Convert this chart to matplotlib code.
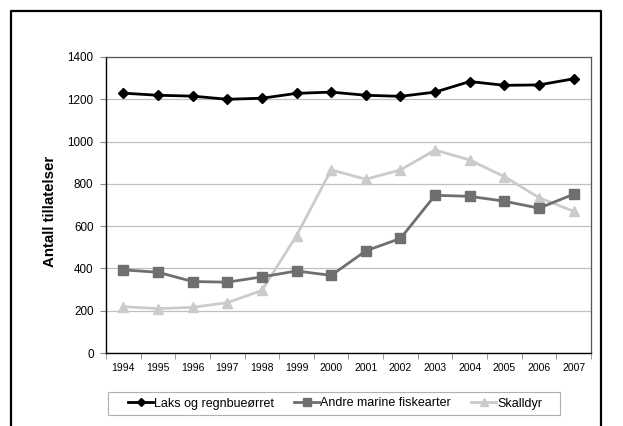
import matplotlib
matplotlib.use("Agg")
import matplotlib.pyplot as plt
from matplotlib.lines import Line2D
from matplotlib.patches import Rectangle

plt.rcParams['font.family'] = ['Liberation Sans', 'DejaVu Sans']

years = ['1994', '1995', '1996', '1997', '1998', '1999', '2000',
         '2001', '2002', '2003', '2004', '2005', '2006', '2007']
laks = [1229, 1219, 1215, 1200, 1205, 1228, 1234, 1219, 1214, 1234, 1284, 1266, 1268, 1297]
andre = [393, 382, 338, 335, 360, 388, 367, 483, 542, 746, 741, 718, 685, 751]
skalldyr = [219, 210, 216, 238, 296, 555, 866, 822, 866, 960, 913, 834, 735, 670]
series_names = ['Laks og regnbueørret', 'Andre marine fiskearter', 'Skalldyr']
yticks = [0, 200, 400, 600, 800, 1000, 1200, 1400]

W, H = 623, 426
fig = plt.figure(figsize=(W/100, H/100), dpi=100)
ax = fig.add_axes([106/W, 1-353/H, 485/W, 296/H])

x = list(range(len(years)))
ax.plot(x, laks, color='black', lw=2, marker='D', ms=5.5, mfc='black', mec='black', zorder=5,
        label=series_names[0])
ax.plot(x, andre, color='#6f6f6f', lw=2, marker='s', ms=7, mfc='#6f6f6f', mec='#6f6f6f', zorder=4,
        label=series_names[1])
ax.plot(x, skalldyr, color='#cbcbcb', lw=2, marker='^', ms=7, mfc='#cbcbcb', mec='#cbcbcb', zorder=3,
        label=series_names[2])

ax.set_xlim(-0.5, len(years) - 0.5)
ax.set_ylim(0, 1400)
ax.set_yticks(yticks)
ax.set_yticklabels([str(v) for v in yticks], fontsize=8.4)
ax.set_xticks(x)
ax.set_xticklabels(years, fontsize=7.5)
ax.set_xticks([i - 0.5 for i in range(len(years) + 1)], minor=True)
ax.tick_params(axis='x', which='major', length=0, pad=7)
ax.tick_params(axis='x', which='minor', length=4, direction='out', color='#888888')
ax.tick_params(axis='y', length=4, direction='out', color='#888888', pad=5)
ax.yaxis.grid(True, color='#c0c0c0', lw=0.9)
ax.set_axisbelow(True)
for s in ['left', 'bottom']:
    ax.spines[s].set_color('black')
    ax.spines[s].set_linewidth(1.0)
for s in ['top', 'right']:
    ax.spines[s].set_color('#555555')
    ax.spines[s].set_linewidth(0.9)

ax.set_ylabel('Antall tillatelser', fontsize=10.8, fontweight='bold')
ax.yaxis.set_label_coords((57-106)/485, (353-211)/296)

# legend frame
fig.add_artist(Rectangle((108/W, 1-415/H), 452/W, 23/H, transform=fig.transFigure,
                         facecolor='white', edgecolor='#b0b0b0', lw=0.8, zorder=1))
leg = fig.legend(loc='center left', bbox_to_anchor=(128/W, 1-403.5/H), ncol=3, fontsize=9,
                 frameon=False, handlelength=2.0, columnspacing=1.6,
                 handletextpad=0.1, borderpad=0.0, borderaxespad=0.0, markerscale=0.75)
leg.set_zorder(2)

# outer frame (left, top, right)
fx = [11/W, 11/W, 601/W, 601/W]
fy = [0, 1-11/H, 1-11/H, 0]
fig.add_artist(Line2D(fx, fy, transform=fig.transFigure, color='black', lw=1.6))

fig.savefig('out.png', dpi=100)
